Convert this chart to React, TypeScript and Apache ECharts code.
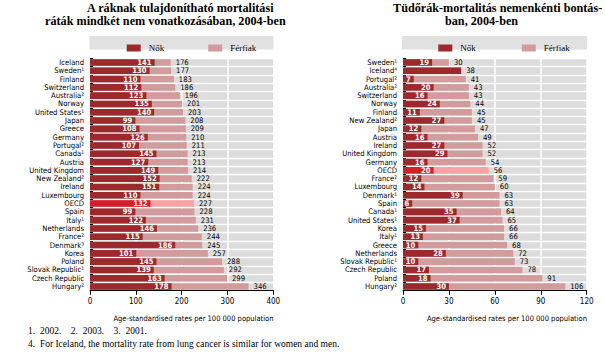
import React, { useEffect, useRef } from "react";
import * as echarts from "echarts";

const leftCats = ["Iceland","Sweden¹","Finland","Switzerland","Australia²","Norway","United States¹","Japan","Greece","Germany","Portugal²","Canada¹","Austria","United Kingdom","New Zealand²","Ireland","Luxembourg","OECD","Spain","Italy¹","Netherlands","France²","Denmark³","Korea","Poland","Slovak Republic¹","Czech Republic","Hungary²"];
const leftWomen = [141,130,110,112,123,135,140,99,108,126,107,145,127,149,152,151,110,132,99,122,146,115,186,101,145,139,163,178];
const leftMen = [176,177,183,186,196,201,203,208,209,210,211,213,213,214,222,224,224,227,228,231,236,244,245,257,288,292,299,346];

const rightCats = ["Sweden¹","Iceland⁴","Portugal²","Australia²","Switzerland","Norway","Finland","New Zealand²","Japan","Austria","Ireland","United Kingdom","Germany","OECD","France²","Luxembourg","Denmark¹","Spain","Canada¹","United States¹","Korea","Italy¹","Greece","Netherlands","Slovak Republic¹","Czech Republic","Poland","Hungary²"];
const rightWomen = [19,38,7,20,16,24,11,27,12,16,27,29,16,20,12,14,39,6,35,37,15,13,10,28,10,17,18,30];
const rightMen = [30,38,41,43,43,44,45,45,47,49,52,52,54,56,59,60,63,63,64,65,66,66,68,72,73,78,91,106];

const leftTicks = [0, 400, 100];
const rightTicks = [0, 120, 30];

const DARK = "#9c2a2c";
const PINK = "#d29b9c";
const OECD_DARK = "#d41f2a";
const OECD_PINK = "#f7a3a3";
const NARROW = "'Liberation Sans Narrow','DejaVu Sans Condensed','Arial Narrow',sans-serif";
const SERIF = "'Liberation Serif','DejaVu Serif',serif";

function buildGrid(idx: number, cats: string[], women: number[], men: number[], ticks: number[], noInnerLabel: string[]) {
  const xAxis = {
    gridIndex: idx, type: "value", min: ticks[0], max: ticks[1], interval: ticks[2],
    axisLine: { show: true, lineStyle: { color: "#000", width: 1 } },
    axisTick: { show: true, length: 4, lineStyle: { color: "#000" } },
    splitLine: { show: true, lineStyle: { color: "#fff", width: 1.5 } },
    axisLabel: { fontSize: 8, color: "#000", margin: 7, fontFamily: NARROW },
  };
  const yAxis = {
    gridIndex: idx, type: "category", data: cats, inverse: true,
    axisLine: { show: false },
    axisTick: { show: true, inside: true, length: 3, lineStyle: { color: "#000" } },
    splitLine: { show: true, lineStyle: { color: "#fff", width: 1.3 } },
    axisLabel: { interval: 0, fontSize: 7.6, lineHeight: 8, color: "#000", margin: 6, fontFamily: NARROW },
  };
  const menData = men.map((v, i) => cats[i] === "OECD" ? { value: v, itemStyle: { color: OECD_PINK } } : v);
  const womenData = women.map((v, i) => {
    const item: any = { value: v };
    if (cats[i] === "OECD") item.itemStyle = { color: OECD_DARK };
    if (noInnerLabel.includes(cats[i])) item.label = { show: false };
    return item;
  });
  const series = [
    {
      type: "bar", name: "Férfiak", xAxisIndex: idx, yAxisIndex: idx, data: menData,
      barWidth: 6.6, barGap: "-100%", itemStyle: { color: PINK },
      label: { show: true, position: "right", distance: 5, color: "#000", fontSize: 7.6, lineHeight: 8, fontFamily: NARROW },
    },
    {
      type: "bar", name: "Nők", xAxisIndex: idx, yAxisIndex: idx, data: womenData,
      barWidth: 6.6, barGap: "-100%", itemStyle: { color: DARK }, z: 3,
      label: { show: true, position: "insideRight", distance: 3, color: "#fff", fontWeight: "bold", fontSize: 7.6, lineHeight: 8, fontFamily: NARROW },
    },
  ];
  return { xAxis, yAxis, series };
}

export default function App() {
  const ref = useRef<HTMLDivElement>(null);
  useEffect(() => {
    if (!ref.current) return;
    const chart = echarts.init(ref.current, null, { renderer: "svg" });
    const L = buildGrid(0, leftCats, leftWomen, leftMen, leftTicks, []);
    const R = buildGrid(1, rightCats, rightWomen, rightMen, rightTicks, ["Iceland⁴"]);
    const legendBase = {
      icon: "rect", itemWidth: 14, itemHeight: 7, top: 38.5, data: ["Nők", "Férfiak"],
      textStyle: { fontFamily: SERIF, fontSize: 9, color: "#000", padding: [0, 0, 0, 3] },
      selectedMode: false,
    };
    const titleFont = `bold 12.2px ${SERIF}`;
    chart.setOption({
      animation: false,
      backgroundColor: "#fff",
      grid: [
        { left: 90, top: 58.3, width: 183.3, height: 232.4, show: true, backgroundColor: "#dcdcdc", borderWidth: 0 },
        { left: 403, top: 58.3, width: 183.7, height: 232.4, show: true, backgroundColor: "#dcdcdc", borderWidth: 0 },
      ],
      legend: [
        { ...legendBase, left: 121.7, itemGap: 44 },
        { ...legendBase, left: 433.3, itemGap: 46 },
      ],
      xAxis: [L.xAxis, R.xAxis],
      yAxis: [L.yAxis, R.yAxis],
      series: [...L.series, ...R.series],
      graphic: [
        { type: "rect", z: -1, shape: { x: 89.5, y: 36, width: 184, height: 13.5 }, style: { fill: "#e1e1e1" } },
        { type: "rect", z: -1, shape: { x: 402, y: 36, width: 185, height: 13.5 }, style: { fill: "#e1e1e1" } },
        { type: "text", x: 87, y: 1.5, style: { text: "A ráknak tulajdonítható mortalitási", font: titleFont, fill: "#000" } },
        { type: "text", x: 45, y: 14.5, style: { text: "ráták mindkét nem vonatkozásában, 2004-ben", font: titleFont, fill: "#000" } },
        { type: "text", x: 393, y: 1.5, style: { text: "Tüdőrák-mortalitás nemenkénti bontás-", font: titleFont, fill: "#000" } },
        { type: "text", x: 445, y: 14.5, style: { text: "ban, 2004-ben", font: titleFont, fill: "#000" } },
        { type: "text", x: 273.5, y: 314, style: { text: "Age-standardised rates per 100 000 population", font: `7.5px ${NARROW}`, fill: "#000", align: "right" } },
        { type: "text", x: 587, y: 314, style: { text: "Age-standardised rates per 100 000 population", font: `7.5px ${NARROW}`, fill: "#000", align: "right" } },
        { type: "text", x: 28, y: 326, style: { text: "1.  2002.    2.  2003.    3.  2001.", font: `9.5px ${SERIF}`, fill: "#000" } },
        { type: "text", x: 28, y: 339, style: { text: "4.  For Iceland, the mortality rate from lung cancer is similar for women and men.", font: `9.5px ${SERIF}`, fill: "#000" } },
      ],
    });
    return () => chart.dispose();
  }, []);
  return <div ref={ref} style={{ position: "fixed", left: 0, top: 0, width: 605, height: 358, background: "#fff" }} />;
}
